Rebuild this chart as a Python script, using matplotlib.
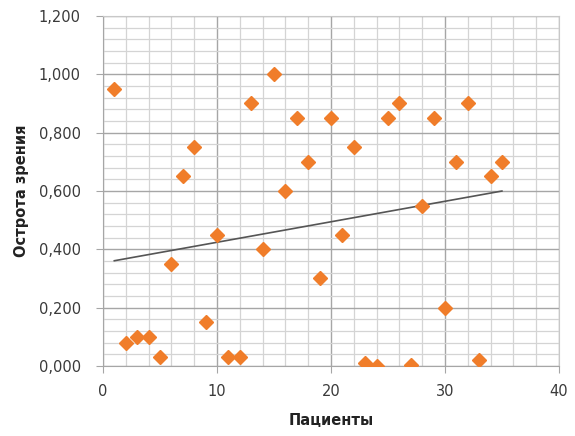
import matplotlib
matplotlib.use("Agg")
import matplotlib.pyplot as plt
import numpy as np
from matplotlib.ticker import MultipleLocator, FuncFormatter

patients = list(range(1, 36))
acuity = [0.95, 0.08, 0.10, 0.10, 0.03, 0.35, 0.65, 0.75, 0.15, 0.45,
          0.03, 0.03, 0.90, 0.40, 1.00, 0.60, 0.85, 0.70, 0.30, 0.85,
          0.45, 0.75, 0.01, 0.00, 0.85, 0.90, 0.005, 0.55, 0.85, 0.20,
          0.70, 0.90, 0.02, 0.65, 0.70]

x_label = "Пациенты"
y_label = "Острота зрения"

fig = plt.figure(figsize=(5.75, 4.36), dpi=100)
ax = fig.add_axes([0.179, 0.1606, 0.793, 0.803])

ax.set_xlim(0, 40)
ax.set_ylim(0, 1.2)
ax.xaxis.set_major_locator(MultipleLocator(10))
ax.xaxis.set_minor_locator(MultipleLocator(2))
ax.yaxis.set_major_locator(MultipleLocator(0.2))
ax.yaxis.set_minor_locator(MultipleLocator(0.04))
ax.yaxis.set_major_formatter(FuncFormatter(lambda v, p: f"{v:.3f}".replace(".", ",")))
ax.grid(which="major", color="#a6a6a6", linewidth=1.0)
ax.grid(which="minor", color="#d4d4d4", linewidth=0.9)
ax.set_axisbelow(True)

x = np.array(patients, dtype=float)
y = np.array(acuity)
k, b = np.polyfit(x, y, 1)
xs = np.array([x.min(), x.max()])
ax.plot(xs, k * xs + b, color="#555555", linewidth=1.2, zorder=2)
ax.plot(x, y, linestyle="none", marker="D", markersize=7.5, color="#f07d2a", zorder=3)

for s in ["top", "right"]:
    ax.spines[s].set_color("#c8c8c8")
ax.spines["left"].set_color("#a6a6a6")
ax.spines["bottom"].set_color("#a6a6a6")
ax.tick_params(axis="both", which="minor", length=0)
ax.tick_params(axis="both", which="major", length=5, color="#a6a6a6",
               labelsize=10.5, labelcolor="#3a3a3a")
ax.tick_params(axis="x", which="major", pad=8)
ax.tick_params(axis="y", which="major", pad=11)

ax.set_xlabel(x_label, fontsize=10.5, fontweight="bold", color="#222222", labelpad=10)
ax.set_ylabel(y_label, fontsize=10.5, fontweight="bold", color="#222222", labelpad=7)

fig.savefig("out.png", dpi=100)
